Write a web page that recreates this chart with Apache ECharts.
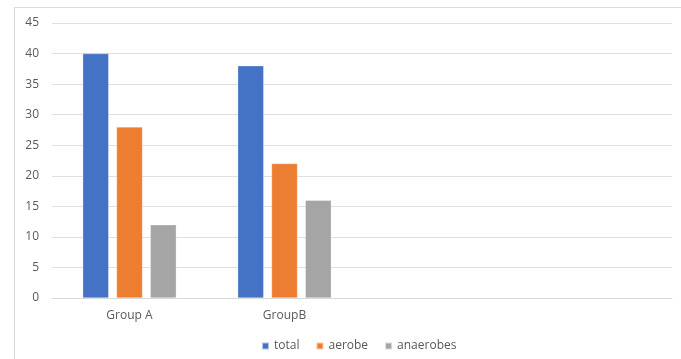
<!DOCTYPE html>
<html><head><meta charset="utf-8">
<script src="https://cdn.jsdelivr.net/npm/echarts@6/dist/echarts.min.js"></script>
<style>html,body{margin:0;padding:0;background:#fff}#c{width:681px;height:359px}</style>
</head><body><div id="c"></div>
<script>
const categories = ['Group A', 'GroupB', '', ''];
const total = [40, 38, null, null];
const aerobe = [28, 22, null, null];
const anaerobes = [12, 16, null, null];
const yTicks = [0, 5, 10, 15, 20, 25, 30, 35, 40, 45];

const chart = echarts.init(document.getElementById('c'));
const font = 'Open Sans';
const mk = (name, data, color) => ({
  name, type: 'bar', data, barWidth: 26, barGap: '30%',
  itemStyle: { color, borderColor: 'rgba(255,255,255,0.6)', borderWidth: 0.5 }
});
chart.setOption({
  animation: false,
  graphic: [{ type: 'rect', shape: { x: 14.5, y: 7.5, width: 700, height: 400 },
    style: { fill: 'none', stroke: '#d9d9d9', lineWidth: 1 } }],
  grid: { left: 52, right: 9, top: 23, bottom: 61 },
  legend: {
    data: ['total', 'aerobe', 'anaerobes'], top: 335, left: 256,
    icon: 'rect', itemWidth: 7, itemHeight: 7, itemGap: 16,
    textStyle: { color: '#595959', fontSize: 12, fontFamily: font }
  },
  xAxis: {
    type: 'category', data: categories,
    axisLine: { lineStyle: { color: '#d9d9d9' } }, axisTick: { show: false },
    axisLabel: { color: '#595959', fontSize: 12, fontFamily: font, margin: 12 }
  },
  yAxis: {
    type: 'value', min: yTicks[0], max: yTicks[yTicks.length - 1], interval: 5,
    axisLine: { show: false }, axisTick: { show: false },
    splitLine: { lineStyle: { color: '#e0e0e0' } },
    axisLabel: { color: '#595959', fontSize: 12, fontFamily: font, margin: 13 }
  },
  series: [mk('total', total, '#4472C4'), mk('aerobe', aerobe, '#ED7D31'), mk('anaerobes', anaerobes, '#A5A5A5')]
});
</script></body></html>
